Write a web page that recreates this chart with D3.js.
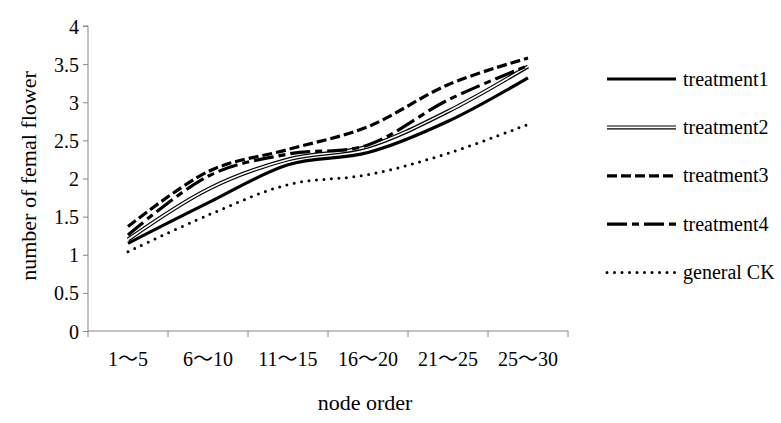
<!DOCTYPE html>
<html>
<head>
<meta charset="utf-8">
<script src="https://cdn.jsdelivr.net/npm/d3@7"></script>
<style>
  body { margin: 0; background: #fff; }
  svg text { font-family: "Liberation Serif", "Noto Sans CJK SC", serif; fill: #000; }
</style>
</head>
<body>
<script>
// data
var categories = ['1～5', '6～10', '11～15', '16～20', '21～25', '25～30'];
var treatment1 = [1.15, 1.68, 2.18, 2.34, 2.75, 3.32];
var treatment2 = [1.20, 1.86, 2.25, 2.42, 2.88, 3.47];
var treatment3 = [1.37, 2.09, 2.38, 2.68, 3.23, 3.58];
var treatment4 = [1.26, 2.03, 2.32, 2.44, 3.03, 3.48];
var generalCK = [1.04, 1.52, 1.92, 2.05, 2.33, 2.71];
var yTicks = [0, 0.5, 1, 1.5, 2, 2.5, 3, 3.5, 4];

var series = [
  { name: 'treatment1', values: treatment1, style: 'solid' },
  { name: 'treatment2', values: treatment2, style: 'double' },
  { name: 'treatment3', values: treatment3, style: 'dash' },
  { name: 'treatment4', values: treatment4, style: 'longdash' },
  { name: 'general CK', values: generalCK, style: 'dot' }
];

var w = 781, h = 423;
var padL = 88, padR = 568, padT = 26, padB = 331;
var serif = '"Liberation Serif", "Noto Sans CJK SC", serif';

var svg = d3.select('body').append('svg')
  .attr('width', w)
  .attr('height', h)
  .attr('font-family', serif);

var xScale = d3.scaleBand()
  .domain(categories)
  .range([padL, padR]);

var yScale = d3.scaleLinear()
  .domain([0, 4])
  .range([padB, padT]);

var yAxis = d3.axisLeft(yScale).tickValues(yTicks).tickSize(5).tickFormat(d3.format('~g'));

// x axis: line, boundary ticks, labels
var gx = svg.append('g')
  .attr('transform', `translate(0,${padB})`);
gx.append('line')
  .attr('x1', padL).attr('x2', padR)
  .attr('stroke', '#868686');
gx.selectAll('line.bnd')
  .data(d3.range(categories.length + 1))
  .enter()
  .append('line')
  .attr('class', 'bnd')
  .attr('x1', (i) => padL + i * xScale.step())
  .attr('x2', (i) => padL + i * xScale.step())
  .attr('y1', 0).attr('y2', 6)
  .attr('stroke', '#868686');
gx.selectAll('text.cat')
  .data(categories)
  .enter()
  .append('text')
  .attr('class', 'cat')
  .attr('x', (d) => xScale(d) + xScale.bandwidth() / 2)
  .attr('y', 35)
  .attr('text-anchor', 'middle')
  .style('font-size', '20px')
  .text((d) => d);

var gy = svg.append('g')
  .attr('transform', `translate(${padL},0)`)
  .call(yAxis);
gy.attr('font-family', null).attr('font-size', null);
gy.select('.domain').attr('stroke', '#868686').attr('d', `M-5,${padT}H0V${padB}`);
gy.selectAll('.tick line').attr('stroke', '#868686');
gy.selectAll('.tick text')
  .attr('x', -9)
  .attr('dy', '0.35em')
  .style('font-size', '20px');

// axis titles
svg.append('text')
  .attr('transform', 'translate(36,176) rotate(-90)')
  .attr('text-anchor', 'middle')
  .style('font-size', '22px')
  .text('number of femal flower');

svg.append('text')
  .attr('x', 365)
  .attr('y', 410)
  .attr('text-anchor', 'middle')
  .style('font-size', '22px')
  .text('node order');

// lines
var line = d3.line()
  .x((d, i) => xScale(categories[i]) + xScale.bandwidth() / 2)
  .y((d) => yScale(d))
  .curve(d3.curveCatmullRom.alpha(0));

function drawStyled(g, pathStr, style) {
  if (style === 'double') {
    g.append('path').attr('d', pathStr).attr('fill', 'none').attr('stroke', '#000').attr('stroke-width', 4);
    g.append('path').attr('d', pathStr).attr('fill', 'none').attr('stroke', '#fff').attr('stroke-width', 1.6);
    return;
  }
  var p = g.append('path').attr('d', pathStr).attr('fill', 'none').attr('stroke', '#000');
  if (style === 'solid') p.attr('stroke-width', 3.2);
  if (style === 'dash') p.attr('stroke-width', 3.2).attr('stroke-dasharray', '10,4');
  if (style === 'longdash') p.attr('stroke-width', 3.2).attr('stroke-dasharray', '20,5,7,5');
  if (style === 'dot') p.attr('stroke-width', 3).attr('stroke-linecap', 'round').attr('stroke-dasharray', '0,7.5');
}

series.forEach((s) => {
  drawStyled(svg.append('g'), line(s.values), s.style);
});

// legend
var legend = svg.selectAll('.legend')
  .data(series)
  .enter()
  .append('g')
  .attr('class', 'legend')
  .attr('transform', (d, i) => `translate(607,${79 + i * 48.4})`);

legend.each(function(d) {
  drawStyled(d3.select(this), 'M0,0H69', d.style);
});

legend.append('text')
  .attr('x', 76)
  .attr('y', 6.5)
  .style('font-size', '20px')
  .text((d) => d.name);
</script>
</body>
</html>
